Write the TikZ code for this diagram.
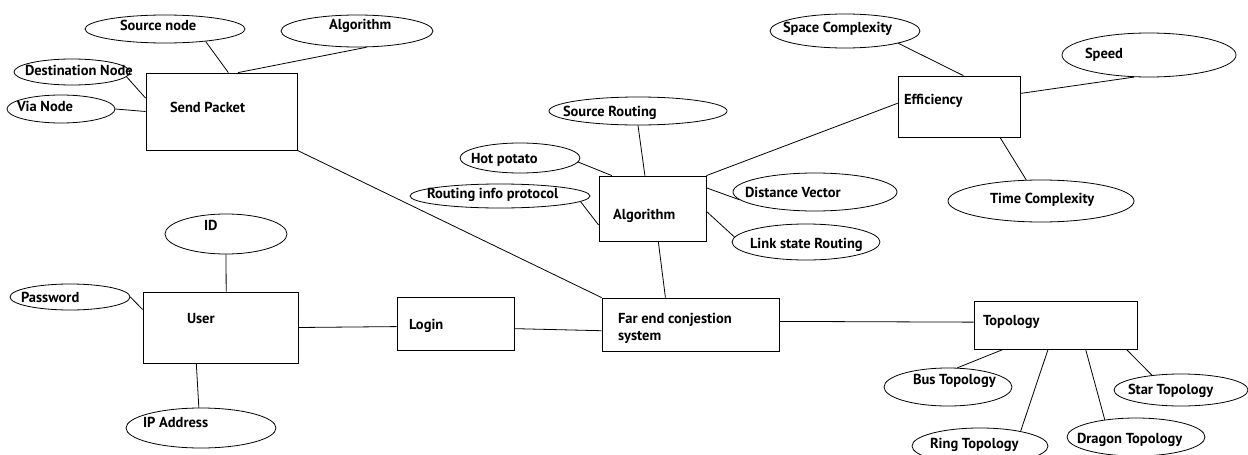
\documentclass[tikz,border=0pt]{standalone}
\usepackage{fontspec}
\setmainfont{PT Sans}
\usetikzlibrary{shapes.geometric}

\begin{document}
\begin{tikzpicture}[x=1pt, y=-1pt, line width=0.8pt, font=\bfseries\fontsize{14.5}{17}\selectfont,
  ent/.style={draw, rectangle, inner sep=0pt},
  attr/.style={draw, ellipse, inner sep=0pt},
  txt/.style={anchor=west, inner sep=0pt, align=left, text height=10pt, text depth=0pt}]
\useasboundingbox (0,0) rectangle (1248,455);
% entities
\node[ent, minimum width=151, minimum height=77, label={[txt, xshift=24, yshift=4.5]west:Send Packet}] (sendpkt) at (221.5,111.5) {};
\node[ent, minimum width=107, minimum height=65, label={[txt, xshift=14, yshift=-5.5]west:Algorithm}] (algo) at (652.5,208.5) {};
\node[ent, minimum width=122, minimum height=61, label={[txt, xshift=6, yshift=7.5]west:Efficiency}] (eff) at (959,106.5) {};
\node[ent, minimum width=155, minimum height=71, label={[txt, xshift=44, yshift=9.5]west:User}] (user) at (220.5,327.5) {};
\node[ent, minimum width=117, minimum height=53, label={[txt, xshift=12, yshift=-0.5]west:Login}] (login) at (455.5,323.5) {};
\node[ent, minimum width=177, minimum height=53, label={[txt, xshift=16, yshift=-10.5]west:Far end conjestion\\system}] (farend) at (690.5,324.5) {};
\node[ent, minimum width=163, minimum height=48, label={[txt, xshift=9, yshift=5]west:Topology}] (topo) at (1055.5,325) {};
% attributes
\node[attr, minimum width=160, minimum height=28, label={[txt, xshift=35, yshift=4]west:Source node}] (srcnode) at (165,29) {};
\node[attr, minimum width=152, minimum height=32, label={[txt, xshift=48, yshift=7]west:Algorithm}] (algtop) at (357,31) {};
\node[attr, minimum width=116, minimum height=26, label={[txt, xshift=11, yshift=2]west:Destination Node}] (dstnode) at (72,72) {};
\node[attr, minimum width=108, minimum height=28, label={[txt, xshift=10, yshift=3]west:Via Node}] (vianode) at (61,109) {};
\node[attr, minimum width=178, minimum height=28, label={[txt, xshift=14]west:Source Routing}] (srcrt) at (638,111) {};
\node[attr, minimum width=120, minimum height=30, label={[txt, xshift=11]west:Hot potato}] (hotpot) at (520,158) {};
\node[attr, minimum width=180, minimum height=24, label={[txt, xshift=17, yshift=3]west:Routing info protocol}] (rip) at (500,196) {};
\node[attr, minimum width=164, minimum height=38, label={[txt, xshift=12]west:Distance Vector}] (distvec) at (815,192) {};
\node[attr, minimum width=148, minimum height=36, label={[txt, xshift=18, yshift=-1]west:Link state Routing}] (linkst) at (806,242) {};
\node[attr, minimum width=150, minimum height=34, label={[txt, xshift=13, yshift=4]west:Space Complexity}] (spacecx) at (845,31) {};
\node[attr, minimum width=174, minimum height=44, label={[txt, xshift=23, yshift=2]west:Speed}] (speed) at (1149,55) {};
\node[attr, minimum width=186, minimum height=42, label={[txt, xshift=42, yshift=3]west:Time Complexity}] (timecx) at (1041,201) {};
\node[attr, minimum width=122, minimum height=40, label={[txt, xshift=39, yshift=9]west:ID}] (id) at (226,234) {};
\node[attr, minimum width=120, minimum height=26, label={[txt, xshift=11]west:Password}] (pass) at (70,297) {};
\node[attr, minimum width=150, minimum height=40, label={[txt, xshift=17, yshift=6]west:IP Address}] (ipaddr) at (201,428) {};
\node[attr, minimum width=128, minimum height=38, label={[txt, xshift=29, yshift=8]west:Bus Topology}] (bus) at (948,387) {};
\node[attr, minimum width=134, minimum height=32, label={[txt, xshift=14, yshift=1]west:Star Topology}] (star) at (1181,390) {};
\node[attr, minimum width=138, minimum height=38, label={[txt, xshift=10, yshift=-1]west:Dragon Topology}] (dragon) at (1136,437) {};
\node[attr, minimum width=136, minimum height=36, label={[txt, xshift=18, yshift=3]west:Ring Topology}] (ring) at (980,446) {};
% links
\draw (srcnode.-17) -- (sendpkt.80);
\draw (algtop.-60) -- (sendpkt.67);
\draw (dstnode.-5) -- (sendpkt.170);
\draw (vianode.east) -- (sendpkt.west);
\draw (sendpkt.south east) -- (farend.north west);
\draw (srcrt.south) -- (algo.103);
\draw (hotpot.-4) -- (algo.141);
\draw (rip.-4) -- (algo.197);
\draw (algo.21) -- (distvec.186);
\draw (algo.-3) -- (linkst.176);
\draw (algo.north east) -- (eff.177);
\draw (algo.-80) -- (farend.133);
\draw (eff.82) -- (spacecx.-13);
\draw (eff.12) -- (speed.-124);
\draw (eff.-37) -- (timecx.125);
\draw (id.south) -- (user.81);
\draw (pass.east) -- (user.167);
\draw (ipaddr.96) -- (user.-124);
\draw (user.east) -- (login.183);
\draw (login.-5) -- (farend.184);
\draw (farend.2) -- (topo.178);
\draw (topo.-155) -- (bus.64);
\draw (topo.-107) -- (ring.20);
\draw (topo.-39) -- (dragon.151);
\draw (topo.-19) -- (star.153);
\end{tikzpicture}
\end{document}
